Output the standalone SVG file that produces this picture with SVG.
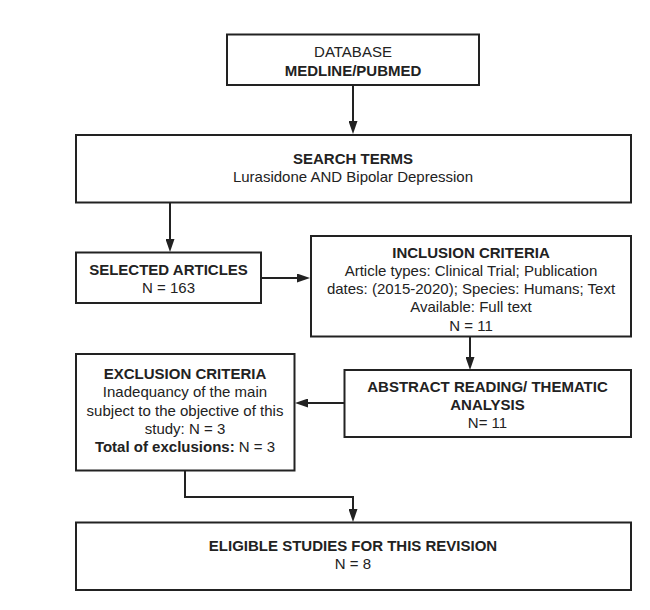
<svg xmlns="http://www.w3.org/2000/svg" width="650" height="610" viewBox="0 0 650 610">
<style>
.box{fill:#fff;stroke:#222;stroke-width:2}
.t{font-family:"Liberation Sans",Arial,sans-serif;font-size:15px;fill:#222;text-anchor:middle}
.b{font-weight:bold}
.c{fill:none;stroke:#222;stroke-width:2}
</style>
<defs>
<marker id="ah" markerWidth="13" markerHeight="9" refX="9" refY="4.5" orient="auto" markerUnits="userSpaceOnUse">
<path d="M0,0 L13,4.5 L0,9 z" fill="#222"/>
</marker>
</defs>
<rect width="650" height="610" fill="#fff"/>
<g id="connectors">
<line class="c" x1="353" y1="85" x2="353" y2="130" marker-end="url(#ah)"/>
<line class="c" x1="170" y1="202" x2="170" y2="248" marker-end="url(#ah)"/>
<line class="c" x1="261" y1="278" x2="306" y2="278" marker-end="url(#ah)"/>
<line class="c" x1="470" y1="336" x2="470" y2="366" marker-end="url(#ah)"/>
<line class="c" x1="344" y1="403" x2="299" y2="403" marker-end="url(#ah)"/>
<polyline class="c" points="185,471 185,497 353,497 353,518" marker-end="url(#ah)"/>
</g>
<g id="database">
<rect class="box" x="227" y="34.5" width="252" height="50.5"/>
<text class="t" x="353" y="57">DATABASE</text>
<text class="t b" x="353" y="75.5">MEDLINE/PUBMED</text>
</g>
<g id="search-terms">
<rect class="box" x="76" y="135" width="555" height="67.5"/>
<text class="t b" x="353" y="163.5">SEARCH TERMS</text>
<text class="t" x="353" y="182">Lurasidone AND Bipolar Depression</text>
</g>
<g id="selected-articles">
<rect class="box" x="76" y="252.5" width="185" height="50.5"/>
<text class="t b" x="168.5" y="274.5">SELECTED ARTICLES</text>
<text class="t" x="168.5" y="293">N = 163</text>
</g>
<g id="inclusion-criteria">
<rect class="box" x="311" y="236" width="320" height="100.5"/>
<text class="t b" x="471" y="257.5">INCLUSION CRITERIA</text>
<text class="t" x="471" y="275.8">Article types: Clinical Trial; Publication</text>
<text class="t" x="471" y="294.1">dates: (2015-2020); Species: Humans; Text</text>
<text class="t" x="471" y="312.4">Available: Full text</text>
<text class="t" x="471" y="330.7">N = 11</text>
</g>
<g id="abstract-reading">
<rect class="box" x="344.5" y="370" width="286.5" height="67"/>
<text class="t b" x="487.5" y="391.7">ABSTRACT READING/ THEMATIC</text>
<text class="t b" x="487.5" y="410">ANALYSIS</text>
<text class="t" x="487.5" y="428.3">N= 11</text>
</g>
<g id="exclusion-criteria">
<rect class="box" x="76" y="354" width="218.5" height="116.5"/>
<text class="t b" x="185" y="379">EXCLUSION CRITERIA</text>
<text class="t" x="185" y="397.3">Inadequancy of the main</text>
<text class="t" x="185" y="415.6">subject to the objective of this</text>
<text class="t" x="185" y="433.9">study: N = 3</text>
<text class="t" x="185" y="452.2"><tspan class="b">Total of exclusions:</tspan> N = 3</text>
</g>
<g id="eligible-studies">
<rect class="box" x="76" y="522.5" width="555" height="67.5"/>
<text class="t b" x="353" y="550.7">ELIGIBLE STUDIES FOR THIS REVISION</text>
<text class="t" x="353" y="569">N = 8</text>
</g>
</svg>
